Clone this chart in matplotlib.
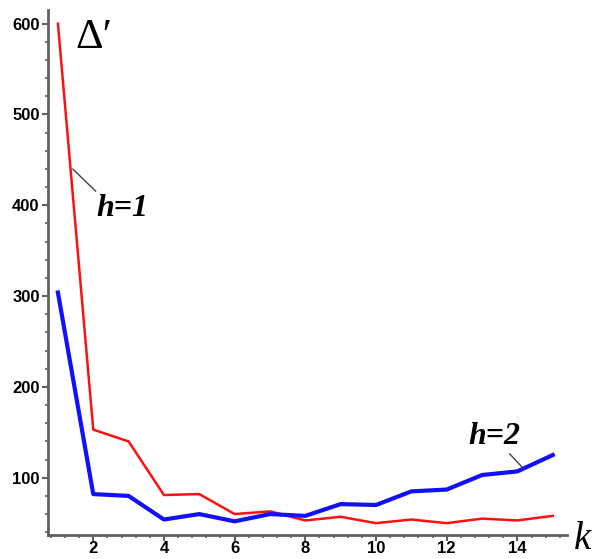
import matplotlib
matplotlib.use("Agg")
import matplotlib.pyplot as plt
from matplotlib.ticker import MultipleLocator

k = list(range(1, 16))
h1 = [600, 153, 140, 81, 82, 60, 63, 53, 57, 50, 54, 50, 55, 53, 58]
h2 = [304, 82, 80, 54, 60, 52, 60, 58, 71, 70, 85, 87, 103, 107, 125]
x_ticks = [2, 4, 6, 8, 10, 12, 14]
y_ticks = [100, 200, 300, 400, 500, 600]

fig = plt.figure(figsize=(5.95, 5.59), dpi=100)
ax = fig.add_axes([0.0807, 0.043, 0.872, 0.939])

ax.plot(k, h1, color="#ff1010", lw=1.8, solid_joinstyle="round")
ax.plot(k, h2, color="#1010ff", lw=3.0, solid_joinstyle="round")

ax.set_xlim(0.72, 15.4)
ax.set_ylim(37, 615)
ax.set_xticks(x_ticks)
ax.set_yticks(y_ticks)
ax.xaxis.set_minor_locator(MultipleLocator(0.4))
ax.yaxis.set_minor_locator(MultipleLocator(20))

for s in ["top", "right"]:
    ax.spines[s].set_visible(False)
for s in ["left", "bottom"]:
    ax.spines[s].set_color("#606060")
    ax.spines[s].set_linewidth(2.0)

ax.tick_params(which="major", direction="out", length=4, width=1.5, color="#606060",
               labelsize=12, pad=2)
ax.tick_params(axis="x", which="major", pad=0.5)
ax.tick_params(which="minor", direction="out", length=2.5, width=1.2, color="#606060")
for lab in ax.get_xticklabels() + ax.get_yticklabels():
    lab.set_fontweight("bold")
    lab.set_family("Liberation Sans")

serif = "Liberation Serif"
fig.text(75 / 595, 1 - 48 / 559, "Δ′", fontsize=31, family=serif, ha="left", va="baseline")
fig.text(574 / 595, 1 - 558 / 559, "k", fontsize=28, family=serif, style="italic",
         ha="left", va="bottom")

# annotations
ax.annotate("h=1", xy=(k[0] + 0.42, 440), xycoords="data",
            xytext=(96 / 595, 1 - 216 / 559), textcoords="figure fraction",
            fontsize=23, family=serif, style="italic", fontweight="bold",
            ha="left", va="baseline",
            arrowprops=dict(arrowstyle="-", color="#404040", lw=1.0,
                            shrinkA=0, shrinkB=0, relpos=(0.05, 1.0)))
ax.annotate("h=2", xy=(14.15, 111), xycoords="data",
            xytext=(468 / 595, 1 - 444 / 559), textcoords="figure fraction",
            fontsize=23, family=serif, style="italic", fontweight="bold",
            ha="left", va="baseline",
            arrowprops=dict(arrowstyle="-", color="#404040", lw=1.0,
                            shrinkA=0, shrinkB=0, relpos=(0.75, 0.0)))

fig.savefig("out.png", dpi=100)
